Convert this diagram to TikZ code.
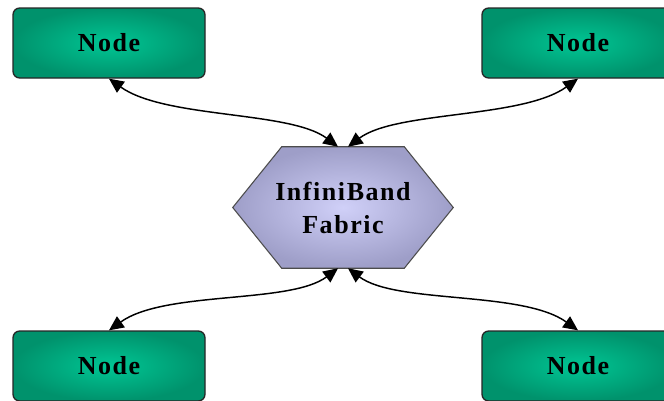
\documentclass[tikz,border=0pt]{standalone}
\usepackage{fontspec}
\setmainfont{Liberation Serif}
\newfontfamily\labelfont[LetterSpace=6]{Liberation Serif}
\usetikzlibrary{arrows.meta,backgrounds}
\definecolor{hostlight}{RGB}{0,198,148}
\definecolor{hostdark}{RGB}{0,146,108}
\definecolor{fablight}{RGB}{208,208,248}
\definecolor{fabdark}{RGB}{158,158,200}
\tikzset{
  hostbox/.style={draw=black!85, line width=1pt, rounded corners=5pt,
    inner color=hostlight, outer color=hostdark,
    minimum width=144pt, minimum height=52.5pt,
    font={\labelfont\bfseries\fontsize{19.5}{24.75}\selectfont}},
  fabric/.style={minimum width=165pt, minimum height=90.75pt, align=center,
    font={\labelfont\bfseries\fontsize{19.5}{24.75}\selectfont}},
  hexfill/.style={draw=black!70, line width=0.8pt, inner color=fablight, outer color=fabdark},
  link/.style={<->, line width=1.1pt, >={Triangle[length=11pt,width=10pt]}}
}
\begin{document}
\begin{tikzpicture}[x=0.75pt, y=-0.75pt]
    % Khung hình
    \useasboundingbox (0,0) rectangle (664,400);
    \clip (0,0) rectangle (664,400);
    % Mạng InfiniBand ở giữa
    \node[fabric] (fab) at (343,207.5) {InfiniBand\\Fabric};
    \begin{scope}[on background layer]
        \fill[white] (0,0) rectangle (664,400);
        \shade[hexfill] ([xshift=36.75pt]fab.north west) -- ([xshift=-36.75pt]fab.north east)
            -- (fab.east) -- ([xshift=-36.75pt]fab.south east)
            -- ([xshift=36.75pt]fab.south west) -- (fab.west) -- cycle;
    \end{scope}
    % Bốn nút
    \node[hostbox] (n1) at (109,43) {Node};
    \node[hostbox] (n2) at (578,43) {Node};
    \node[hostbox] (n3) at (109,366) {Node};
    \node[hostbox] (n4) at (578,366) {Node};
    % Liên kết hai chiều
    \draw[link] ([xshift=-3.75pt]fab.north) .. controls +(-48,-36) and +(56,40) .. (n1.south);
    \draw[link] ([xshift=3.75pt]fab.north) .. controls +(48,-36) and +(-56,40) .. (n2.south);
    \draw[link] ([xshift=-3.75pt]fab.south) .. controls +(-48,36) and +(56,-40) .. (n3.north);
    \draw[link] ([xshift=3.75pt]fab.south) .. controls +(48,36) and +(-56,-40) .. (n4.north);
\end{tikzpicture}
\end{document}
